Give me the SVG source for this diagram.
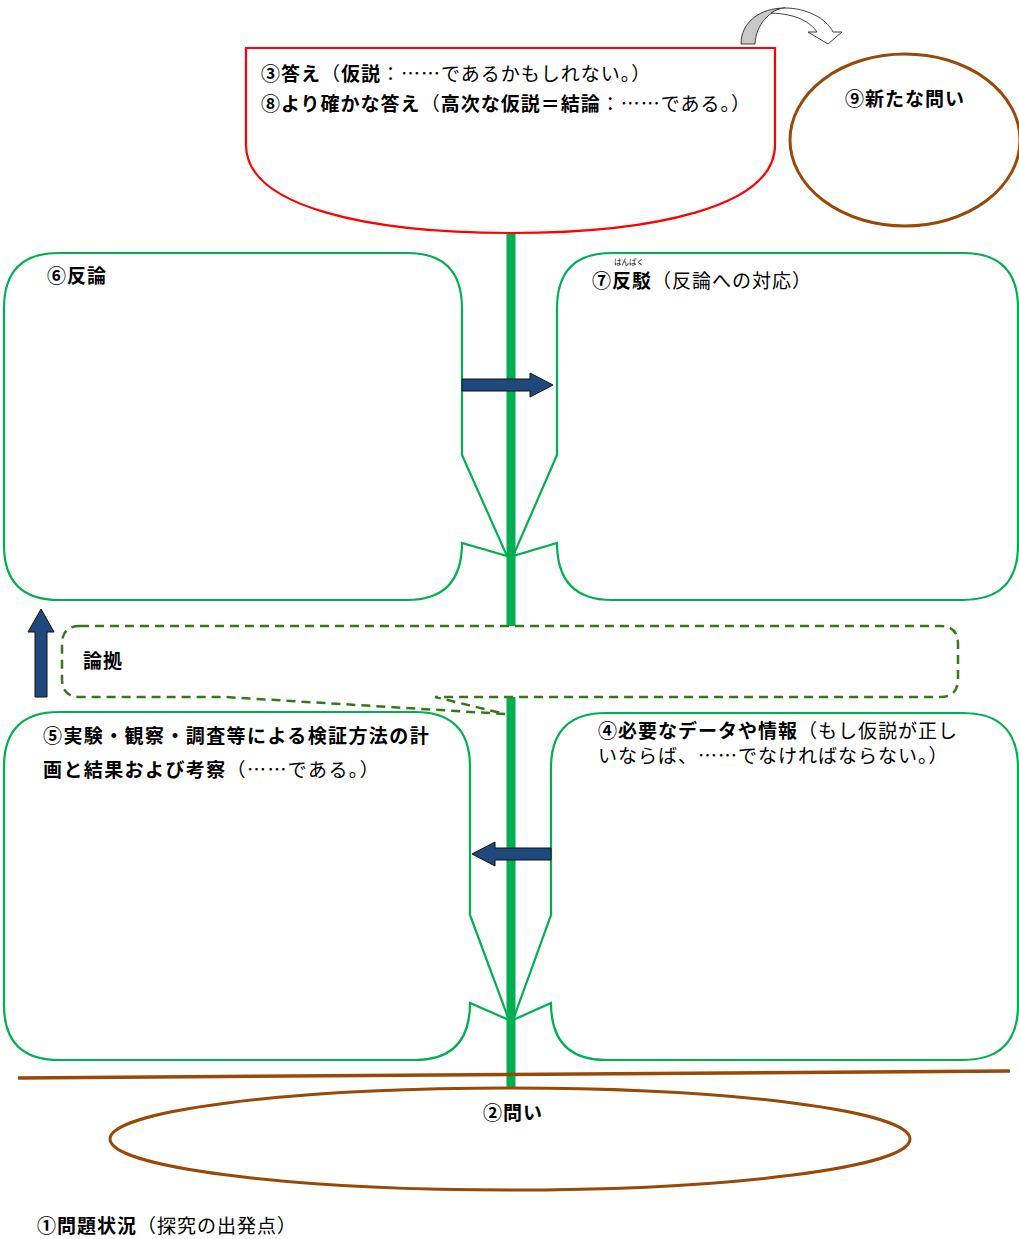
<svg xmlns="http://www.w3.org/2000/svg" width="1019" height="1239" viewBox="0 0 1019 1239">
<style>
text{font-family:"Noto Sans CJK JP","Noto Sans CJK SC",sans-serif;font-size:19px;fill:#000;letter-spacing:1px}
.b{font-weight:bold}
.ruby{font-size:7.5px;letter-spacing:0}
.box{fill:#fff;stroke:#00b050;stroke-width:2.2}
.brown{fill:#fff;stroke:#984807;stroke-width:3}
.blue{fill:#1f497d;stroke:#111;stroke-width:1}
</style>
<rect width="1019" height="1239" fill="#fff"/>
<g id="node-6">
<path class="box" d="M59,253 H407 Q462,253 462,308 V455 L507,556 L462,543 Q462,600 407,600 H59 Q4,600 4,545 V308 Q4,253 59,253 Z"/>
<text x="47" y="283"><tspan class="b">⑥反論</tspan></text>
</g>
<g id="node-7">
<path class="box" d="M612,253 H963 Q1018,253 1018,308 V545 Q1018,600 963,600 H612 Q557,600 557,543 L513,556 L557,455 V308 Q557,253 612,253 Z"/>
<text x="614" y="265" class="ruby">はんばく</text>
<text x="592" y="288"><tspan class="b">⑦反駁</tspan>（反論への対応）</text>
</g>
<g id="node-5">
<path class="box" d="M59,712 H415 Q470,712 470,767 V915 L509,1020 L470,1003 Q470,1060 415,1060 H59 Q4,1060 4,1005 V767 Q4,712 59,712 Z"/>
<text x="43" y="743" class="b" style="letter-spacing:1.4px">⑤実験・観察・調査等による検証方法の計</text>
<text x="43" y="777" style="letter-spacing:1.4px"><tspan class="b">画と結果および考察</tspan>（……である。）</text>
</g>
<g id="node-4">
<path class="box" d="M606,713 H963 Q1018,713 1018,768 V1005 Q1018,1060 963,1060 H606 Q551,1060 551,1003 L513,1020 L551,915 V768 Q551,713 606,713 Z"/>
<text x="598" y="738"><tspan class="b">④必要なデータや情報</tspan>（もし仮説が正し</text>
<text x="598" y="763">いならば、……でなければならない。）</text>
</g>
<g id="connectors">
<line x1="511" y1="232" x2="511" y2="1089" stroke="#00b050" stroke-width="9"/>
<line x1="18" y1="1078" x2="1010" y2="1071" stroke="#984807" stroke-width="3.5"/>
</g>
<g id="node-3-8">
<path d="M246,48 H775 V145 C775,208 650,233 511,233 C372,233 246,208 246,145 Z" fill="#fff" stroke="#ff0000" stroke-width="2.2"/>
<text x="261" y="81"><tspan class="b">③答え</tspan>（<tspan class="b">仮説</tspan>：……であるかもしれない。）</text>
<text x="261" y="111"><tspan class="b">⑧より確かな答え</tspan>（<tspan class="b">高次な仮説＝結論</tspan>：……である。）</text>
</g>
<g id="curved-arrow">
<path d="M741,44 C741,22 760,8 785,8 C770,10 756,24 755,44 Z" fill="#c8c8c8" stroke="#111" stroke-width="0.8"/>
<path d="M785,8 C806,8 826,18 833,32 L842,32 L828,44 L808,32 L817,32 C810,22 797,14 771,13 C776,10 780,8 785,8 Z" fill="#fff" stroke="#111" stroke-width="0.8"/>
</g>
<g id="node-9">
<ellipse class="brown" cx="905" cy="140" rx="115" ry="86"/>
<text x="845" y="106" class="b">⑨新たな問い</text>
</g>
<g id="node-basis">
<path d="M80,626 H940 Q958,626 958,644 V679 Q958,697 940,697 H435 L505,714 L225,697 H80 Q62,697 62,679 V644 Q62,626 80,626 Z" fill="#fff" stroke="#38761d" stroke-width="2.5" stroke-dasharray="9,6"/>
<text x="83" y="668" class="b">論拠</text>
</g>
<g id="node-2">
<ellipse class="brown" cx="510" cy="1139" rx="400" ry="51"/>
<text x="483" y="1120" class="b">②問い</text>
</g>
<g id="node-1">
<text x="37" y="1233"><tspan class="b">①問題状況</tspan>（探究の出発点）</text>
</g>
<g id="arrows">
<path class="blue" d="M462,379 H530 V373 L553,385 L530,397 V391 H462 Z"/>
<path class="blue" d="M551,848 H495 V842 L472,854 L495,866 V860 H551 Z"/>
<path class="blue" d="M35,697 V632 H28 L41,609 L54,632 H47 V697 Z"/>
</g>
</svg>
